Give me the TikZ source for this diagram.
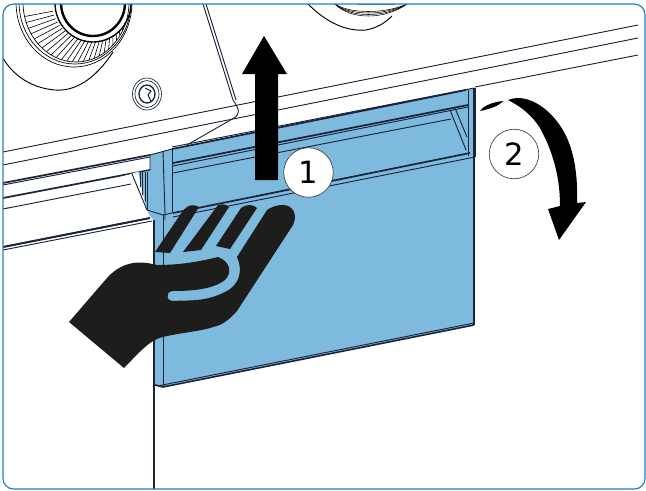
\documentclass[tikz,border=0pt]{standalone}
\usepackage{fontspec}
\usepackage{xcolor}
\usetikzlibrary{calc}
\setmainfont{DejaVu Sans}
\definecolor{framec}{RGB}{30,130,195}
\definecolor{panelc}{RGB}{126,185,222}
\definecolor{edgec}{RGB}{28,36,58}
\definecolor{handc}{RGB}{29,30,28}
\tikzset{
  ln/.style={edgec,line width=0.7pt},
  thk/.style={edgec,line width=1.3pt},
  num/.style={circle,draw=black!75,line width=0.5pt,fill=white,minimum size=49.5*0.75pt,inner sep=0pt,font=\fontsize{23}{23}\selectfont}
}
\begin{document}
\begin{tikzpicture}[x=0.75pt,y=-0.75pt]
\useasboundingbox (0,0) rectangle (646,490);
\begin{scope}
\clip[rounded corners=8pt] (3,4) rectangle (645,489);
% first knob
\foreach \a in {10,16,...,170}{ \draw[black,line width=0.45pt] ($(88,2)+(\a:36 and 38)$) -- ($(76,2)+(\a:53 and 60)$); }
\fill[white] (93,3) ellipse (37 and 38);
\draw[black,line width=1.8pt] (93,3) ellipse (32 and 33);
\draw[black,line width=1pt] (93,3) ellipse (38 and 39);
\draw[black,line width=0.5pt] (76,2) ellipse (53 and 60);
\draw[black,line width=0.5pt] (75,2) ellipse (56 and 62);
\draw[black,line width=0.5pt] (74,2) ellipse (58 and 65);
\draw[black,line width=0.7pt] (3,58) .. controls (12,74) and (30,88) .. (55,90) .. controls (80,92) and (100,72) .. (113,52);
% second knob
\draw[black,line width=0.7pt] (308,4) .. controls (322,18) and (342,32) .. (366,30) .. controls (376,28) and (384,24) .. (392,16);
\foreach \d in {0,2,4,6}{ \draw[black,line width=0.4pt] (335,4) .. controls (350,{14+\d}) and (385,{14+\d}) .. (407,4); }
\draw[framec,line width=0.5pt] (358,4) -- (395,4);
% top panel
\draw[ln] (3,152) -- (638,25);
\draw[ln] (3,165) -- (638,38);
\draw[ln] (475,87) -- (638,55);
\draw[ln] (203,4) -- (233,100) .. controls (240,110) and (240,114) .. (234,118) -- (187,145);
\draw[ln] (206,4) -- (236,100);
% screw
\draw[edgec,line width=0.5pt] (147,94) ellipse (14.5 and 16);
\draw[edgec,line width=0.5pt] (147,94) ellipse (12 and 13.5);
\draw[edgec,line width=1pt] (147,94) ellipse (8 and 9);
\draw[edgec,line width=0.8pt] (145,88) -- (151,91) -- (148,95) -- (151,101);
% lower white parts
\draw[thk] (3,183) -- (150,155);
\draw[ln] (3,185) -- (150,157);
\draw[thk] (3,198) -- (150,170);
\draw[ln] (3,209) -- (131,184);
\draw[thk] (3,247) -- (150,218);
\draw[ln] (3,250) -- (152,221);
% blue panel
\fill[panelc] (150,155) -- (172,149) -- (466,90) -- (475,88) -- (474,325) -- (163,387) -- (155,385) -- (155,222) -- (150,216) -- (147,210) -- (133,173) -- (150,170) -- cycle;
\fill[white] (131,174) -- (138,172) -- (146,207) -- (147,217) -- (3,245) -- (3,209) -- cycle;
\draw[ln] (3,209) -- (131,184);
\draw[thk] (3,247) -- (150,218);
\draw[ln] (132,174) -- (147,210);
\foreach \x in {140,142.5,145,147.5}{ \draw[edgec,line width=0.5pt] (\x,172) -- (\x,{172+(\x-135)*3}); }
\draw[ln] (150,155) -- (150,170) -- (140,172);
\draw[ln] (147,210) -- (163,215) -- (172,213);
\draw[ln] (150,155) -- (172,149);
\draw[ln] (163,151) -- (165,214) -- (165,220);
\draw[ln] (172,149) -- (172,213);
\draw[ln] (163,215) -- (163,387);
\draw[line width=1.5pt,edgec] (154,220) -- (154,490);
\draw[line width=1.2pt,edgec] (155,385) -- (163,387) -- (474,325);
\draw[ln] (160,385.5) -- (474,323);
\draw[line width=1.3pt,edgec] (474,88) -- (474,325);
% recess
\draw[thk] (172,149) -- (466,90);
\draw[ln] (172,147) -- (474,88);
\draw[thk] (173,163) -- (468,105);
\draw[ln] (173,166) -- (468,107);
\draw[ln] (173,173) -- (451,119);
\draw[thk] (173,213) -- (470,153);
\draw[ln] (173,217) -- (475,157);
\draw[ln] (468,90) -- (468,156);
\draw[ln] (475,88) -- (475,157);
\draw[ln] (450,110) -- (466,150);
\draw[ln] (455,108) -- (467,137);
\end{scope}
% hand
\fill[handc] (69,322) -- (124,368) .. controls (134,358) and (145,345) .. (155,340) .. controls (165,334) and (200,332) .. (213,327) .. controls (225,325) and (233,315) .. (237,311) -- (293,225) .. controls (298,215) and (293,205) .. (283,205) .. controls (275,205) and (270,208) .. (267,210) -- (237,257) .. controls (243,270) and (240,285) .. (225,292) .. controls (205,302) and (190,300) .. (172,301) .. controls (166,301) and (166,291) .. (172,291) .. controls (190,291) and (212,290) .. (225,280) .. controls (232,273) and (231,262) .. (218,257) .. controls (205,260) and (185,265) .. (157,265) .. controls (145,262) and (125,258) .. (107,278) -- cycle;
\fill[handc] (155,252) -- (182,212) .. controls (188,204) and (194,204) .. (199,207) -- (170,253) -- cycle;
\fill[handc] (183,252) -- (218,205) .. controls (222,204) and (226,204) .. (229,207) -- (201,250) -- cycle;
\fill[handc] (216,246) -- (241,208) .. controls (246,204) and (253,204) .. (257,208) -- (230,249) -- cycle;
% arrows
\fill[black] (255,180) -- (255,74) -- (242,74) -- (264,36) -- (287,74) -- (278,74) -- (278,180) -- cycle;
\fill[black] (480,111) .. controls (484,105) and (494,102) .. (503,101) .. controls (499,106) and (490,109) .. (480,111) -- cycle;
\fill[black] (508,100) .. controls (528,92) and (552,110) .. (564,132) .. controls (574,150) and (578,175) .. (577,203) -- (586,202) -- (559,240) -- (548,209) -- (560,206) .. controls (560,175) and (552,150) .. (540,128) .. controls (532,115) and (520,106) .. (508,100) -- cycle;
% numbers
\node[num] (num1) at (308.5,172.5) {1};
\node[num] (num2) at (514,154) {2};
\draw[framec,line width=0.9pt,rounded corners=8pt] (3,489) rectangle (645,4);
\end{tikzpicture}
\end{document}
